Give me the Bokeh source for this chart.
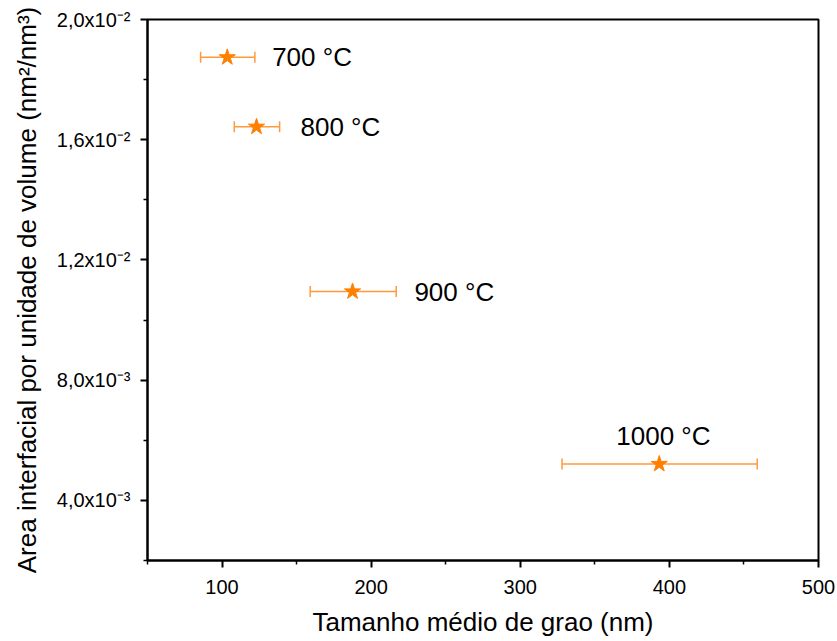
from bokeh.plotting import figure
from bokeh.models import ColumnDataSource, Whisker, TeeHead, FixedTicker, Range1d
from bokeh.core.properties import value
from bokeh.embed import file_html
from bokeh.resources import INLINE

# ---- data ----
temps = ["700 °C", "800 °C", "900 °C", "1000 °C"]
grain = [103.5, 123.1, 187.5, 393.2]
grain_lo = [85.6, 108.2, 159.1, 328.0]
grain_hi = [122.0, 138.6, 216.8, 458.9]
area = [0.01874, 0.01643, 0.01095, 0.00521]
label_x = [133.6, 152.6, 229.0, 396.0]
label_y = [0.01874, 0.01643, 0.01095, 0.00615]
label_align = ["left", "left", "left", "center"]

x_major = [100, 200, 300, 400, 500]
x_minor = [50, 150, 250, 350, 450]
y_major = [0.004, 0.008, 0.012, 0.016, 0.02]
y_minor = [0.002, 0.006, 0.01, 0.014, 0.018]
y_labels = ["4,0x10⁻³", "8,0x10⁻³", "1,2x10⁻²", "1,6x10⁻²", "2,0x10⁻²"]

FONT = "Liberation Sans"

src = ColumnDataSource(dict(x=grain, lo=grain_lo, hi=grain_hi, y=area))
lab = ColumnDataSource(dict(x=label_x, y=label_y, t=temps, a=label_align))

p = figure(width=837, height=641, output_backend="svg", toolbar_location=None,
           x_range=Range1d(50, 500), y_range=Range1d(0.002, 0.02),
           min_border_left=147, min_border_right=19, min_border_top=19,
           min_border_bottom=81)
p.background_fill_color = "white"
p.border_fill_color = "white"
p.outline_line_color = "black"
p.outline_line_width = 2
p.xgrid.visible = False
p.ygrid.visible = False

# error bars
orange = "#FF7F00"
err_col = "#FF9A3C"
w = Whisker(source=src, base="y", lower="lo", upper="hi", dimension="width",
            line_color=err_col, line_width=1.5,
            lower_head=TeeHead(size=11, line_color=err_col, line_width=1.5),
            upper_head=TeeHead(size=11, line_color=err_col, line_width=1.5))
p.add_layout(w)

p.scatter("x", "y", source=src, marker="star", size=17,
          fill_color=orange, line_color=orange)

p.text("x", "y", text="t", source=lab, text_align="a", text_baseline="middle",
       text_font_size="26px", text_font=value(FONT), text_color="black")

# axes
for ax in (p.xaxis[0], p.yaxis[0]):
    ax.axis_line_width = 2
    ax.axis_line_color = "black"
    ax.major_tick_line_width = 2
    ax.minor_tick_line_width = 1.5
    ax.major_tick_in = 0
    ax.major_tick_out = 7
    ax.minor_tick_in = 0
    ax.minor_tick_out = 4
    ax.major_label_text_font = FONT
    ax.major_label_text_font_size = "20px"
    ax.major_label_text_color = "black"
    ax.axis_label_text_font = FONT
    ax.axis_label_text_font_size = "26px"
    ax.axis_label_text_font_style = "normal"
    ax.axis_label_text_color = "black"

p.xaxis.ticker = FixedTicker(ticks=x_major, minor_ticks=x_minor)
p.yaxis.ticker = FixedTicker(ticks=y_major, minor_ticks=y_minor)
p.yaxis.major_label_overrides = {k: v for k, v in zip(y_major, y_labels)}
p.xaxis.major_label_standoff = 12
p.yaxis.major_label_standoff = 10
p.xaxis.axis_label = "Tamanho médio de grao (nm)"
p.yaxis.axis_label = "Area interfacial por unidade de volume (nm²/nm³)"
p.xaxis.axis_label_standoff = 10
p.yaxis.axis_label_standoff = 12

open("out.html", "w").write(file_html(p, INLINE))
